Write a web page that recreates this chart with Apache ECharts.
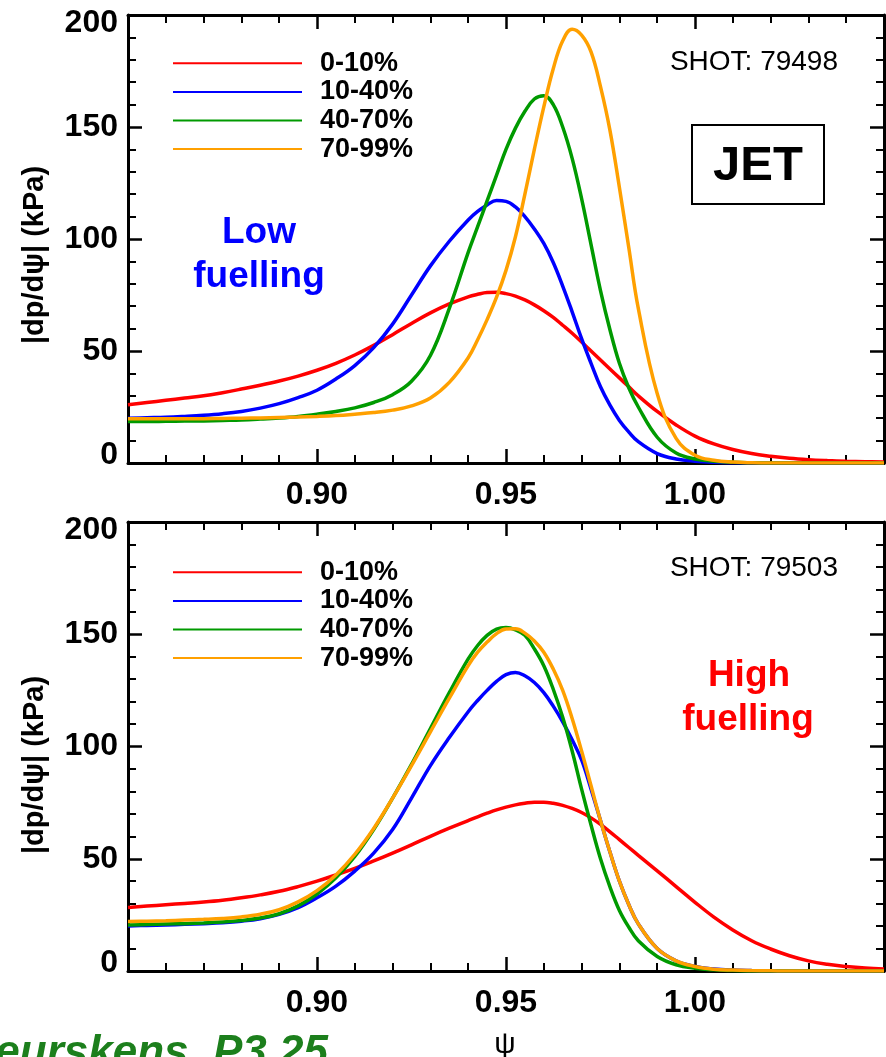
<!DOCTYPE html>
<html>
<head>
<meta charset="utf-8">
<script src="https://cdn.jsdelivr.net/npm/echarts@6/dist/echarts.min.js"></script>
<style>
  html, body { margin: 0; padding: 0; background: #ffffff; }
  #chart { width: 886px; height: 1057px; }
</style>
</head>
<body>
<div id="chart"></div>
<script>
// Normalised flux coordinate (psi); finer sampling across the pedestal peak
const psi = [
  0.850, 0.855, 0.860, 0.865, 0.870, 0.875, 0.880, 0.885, 0.890, 0.895,
  0.900, 0.905, 0.910, 0.915, 0.920, 0.925, 0.930, 0.935,
  0.9400, 0.9425, 0.9450, 0.9475, 0.9500, 0.9525, 0.9550, 0.9575, 0.9600, 0.9625,
  0.9650, 0.9675, 0.9700, 0.9725, 0.9750, 0.9775, 0.9800, 0.9825, 0.9850,
  0.990, 0.995, 1.000, 1.005, 1.010, 1.015, 1.020, 1.025, 1.030, 1.035,
  1.040, 1.045, 1.050
];

// ELM-cycle phase bins
const bands = ['0-10%', '10-40%', '40-70%', '70-99%'];
const bandColors = ['#ff0000', '#0000ff', '#009a00', '#ffa000'];

// Shot 79498 (low fuelling): |dp/dpsi| in kPa
const lowBand0 = [
  26.0, 27.0, 28.0, 29.0, 30.0, 31.4, 33.0, 34.7, 36.6, 38.8,
  41.4, 44.5, 48.2, 52.5, 57.3, 62.3, 67.0, 71.0,
  74.2, 75.3, 76.1, 76.2, 75.6, 74.5, 72.8, 70.6, 68.0, 65.0,
  61.5, 57.9, 54.0, 50.0, 46.0, 42.0, 38.0, 34.0, 30.0,
  23.0, 17.0, 12.0, 8.5, 6.0, 4.2, 3.0, 2.1, 1.5, 1.1,
  0.8, 0.6, 0.4
];
const lowBand1 = [
  20.0, 20.2, 20.4, 20.8, 21.3, 22.0, 23.0, 24.5, 26.5, 29.2,
  32.5, 37.5, 43.5, 51.5, 62.0, 75.0, 88.0, 99.0,
  108.5, 112.3, 115.2, 117.2, 116.8, 114.3, 110.0, 104.5, 98.0, 89.5,
  79.0, 67.5, 55.5, 44.5, 34.0, 25.8, 19.0, 13.8, 9.5,
  4.2, 1.8, 0.8, 0.3, 0.1, 0.0, 0.0, 0.0, 0.0, 0.0,
  0.0, 0.0, 0.0
];
const lowBand2 = [
  18.5, 18.5, 18.6, 18.7, 18.8, 19.0, 19.2, 19.6, 20.1, 20.8,
  21.8, 23.0, 24.6, 27.0, 30.5, 36.5, 48.0, 69.0,
  94.0, 105.5, 117.0, 128.5, 140.0, 149.5, 157.0, 162.5, 164.0, 160.0,
  150.0, 136.0, 118.0, 97.5, 77.0, 59.5, 44.5, 33.5, 25.0,
  11.5, 4.5, 1.8, 0.8, 0.3, 0.1, 0.0, 0.0, 0.0, 0.0,
  0.0, 0.0, 0.0
];
const lowBand3 = [
  19.8, 19.8, 19.8, 19.8, 19.8, 19.9, 20.0, 20.1, 20.3, 20.5,
  20.8, 21.2, 21.8, 22.5, 23.6, 25.5, 29.0, 36.0,
  47.0, 55.0, 64.0, 74.0, 86.0, 101.0, 120.0, 140.0, 159.0, 176.0,
  188.5, 193.6, 191.0, 183.5, 168.0, 148.5, 123.0, 96.0, 69.0,
  31.0, 11.0, 3.5, 1.2, 0.4, 0.1, 0.0, 0.0, 0.0, 0.0,
  0.0, 0.0, 0.0
];

// Shot 79503 (high fuelling): |dp/dpsi| in kPa
const highBand0 = [
  28.3, 28.9, 29.5, 30.1, 30.7, 31.5, 32.6, 33.9, 35.5, 37.6,
  40.0, 42.8, 45.7, 49.0, 52.5, 56.2, 60.0, 63.6,
  67.0, 68.7, 70.3, 71.8, 73.0, 74.0, 74.7, 75.2, 75.2, 74.7,
  73.8, 72.4, 70.6, 68.2, 65.3, 62.0, 58.5, 55.0, 51.5,
  44.6, 37.6, 30.6, 24.0, 18.3, 13.5, 9.8, 6.8, 4.5, 3.0,
  2.0, 1.3, 0.9
];
const highBand1 = [
  20.1, 20.3, 20.5, 20.8, 21.1, 21.5, 22.2, 23.3, 25.2, 28.2,
  32.6, 37.8, 44.5, 52.5, 63.0, 77.0, 91.5, 104.0,
  115.5, 120.5, 125.0, 129.0, 132.0, 133.0, 131.5, 128.5, 124.0, 118.0,
  111.0, 103.0, 94.0, 81.0, 67.0, 53.0, 40.0, 29.5, 21.0,
  10.0, 4.5, 2.0, 0.9, 0.4, 0.2, 0.1, 0.0, 0.0, 0.0,
  0.0, 0.0, 0.0
];
const highBand2 = [
  20.5, 20.7, 20.9, 21.1, 21.4, 21.8, 22.5, 23.6, 25.5, 29.0,
  34.3, 41.5, 51.0, 63.0, 77.0, 92.0, 108.0, 124.0,
  139.0, 145.0, 149.5, 152.3, 153.0, 152.0, 149.5, 143.5, 136.0, 125.5,
  113.0, 98.0, 81.0, 65.0, 50.0, 37.5, 27.0, 19.5, 13.5,
  6.5, 2.8, 1.2, 0.5, 0.2, 0.0, 0.0, 0.0, 0.0, 0.0,
  0.0, 0.0, 0.0
];
const highBand3 = [
  22.0, 22.2, 22.4, 22.7, 23.0, 23.4, 24.1, 25.3, 27.3, 30.8,
  35.8, 42.8, 52.0, 63.5, 77.0, 91.5, 106.5, 121.5,
  136.0, 142.0, 146.5, 150.3, 152.3, 152.4, 150.5, 147.0, 142.0, 134.5,
  125.0, 112.5, 98.0, 82.5, 67.0, 53.0, 40.0, 29.5, 21.0,
  10.0, 4.5, 2.0, 0.8, 0.4, 0.2, 0.1, 0.0, 0.0, 0.0,
  0.0, 0.0, 0.0
];

const lowSets = [lowBand0, lowBand1, lowBand2, lowBand3];
const highSets = [highBand0, highBand1, highBand2, highBand3];

const FONT = "'Liberation Sans', Arial, Helvetica, sans-serif";
const panelTops = [15, 522];
const panelHeight = 448;

function xAxes(gridIndex) {
  const common = {
    type: 'value', gridIndex: gridIndex, min: 0.85, max: 1.05, interval: 0.05,
    axisLine: { show: true, onZero: false, lineStyle: { color: '#000', width: 3 } },
    axisTick: { show: true, inside: true, length: 14, lineStyle: { color: '#000', width: 2.5 } },
    minorTick: { show: true, splitNumber: 5, length: 8, lineStyle: { color: '#000', width: 2 } },
    splitLine: { show: false }, minorSplitLine: { show: false }
  };
  return [
    Object.assign({}, common, {
      position: 'bottom',
      axisLabel: {
        show: true, showMinLabel: false, showMaxLabel: false, margin: 16,
        formatter: v => v.toFixed(2),
        fontFamily: FONT, fontSize: 32, fontWeight: 'bold', color: '#000'
      }
    }),
    Object.assign({}, common, { position: 'top', axisLabel: { show: false } })
  ];
}

function yAxes(gridIndex) {
  const common = {
    type: 'value', gridIndex: gridIndex, min: 0, max: 200, interval: 50,
    axisLine: { show: true, onZero: false, lineStyle: { color: '#000', width: 3 } },
    axisTick: { show: true, inside: true, length: 14, lineStyle: { color: '#000', width: 2.5 } },
    minorTick: { show: true, splitNumber: 5, length: 8, lineStyle: { color: '#000', width: 2 } },
    splitLine: { show: false }, minorSplitLine: { show: false }
  };
  const tickFont = { fontFamily: FONT, fontSize: 32, fontWeight: 'bold', color: '#000' };
  return [
    Object.assign({}, common, {
      position: 'left',
      axisLabel: {
        show: true, margin: 10,
        formatter: v => v === 0 ? '{lo|0}' : (v === 200 ? '{hi|200}' : '{n|' + v + '}'),
        rich: {
          lo: Object.assign({ padding: [0, 0, 16, 0] }, tickFont),
          hi: Object.assign({ padding: [16, 0, 0, 0] }, tickFont),
          n: Object.assign({}, tickFont)
        }
      }
    }),
    Object.assign({}, common, { position: 'right', axisLabel: { show: false } })
  ];
}

function panelSeries(sets, axisIndex) {
  return sets.map((vals, k) => ({
    name: bands[k],
    type: 'line',
    xAxisIndex: axisIndex,
    yAxisIndex: axisIndex,
    data: psi.map((x, i) => [x, vals[i]]),
    smooth: 0.4,
    showSymbol: false,
    symbol: 'none',
    clip: true,
    lineStyle: { color: bandColors[k], width: 3.5 },
    itemStyle: { color: bandColors[k] },
    z: 2 + k
  }));
}

function legendFor(top) {
  return {
    orient: 'vertical', left: 173, top: top, padding: 0,
    icon: 'rect', itemWidth: 129, itemHeight: 2, itemGap: 0,
    selectedMode: false,
    textStyle: {
      fontFamily: FONT, fontSize: 27, fontWeight: 'bold', color: '#000',
      lineHeight: 28.6, padding: [0, 0, 0, 13]
    },
    data: bands
  };
}

function txt(text, x, y, font, fill, extra) {
  return Object.assign({
    type: 'text', silent: true, x: x, y: y,
    style: {
      text: text, x: 0, y: 0, font: font, fill: fill,
      textAlign: 'center', textVerticalAlign: 'middle'
    }
  }, extra || {});
}

const chart = echarts.init(document.getElementById('chart'), null, { renderer: 'canvas' });

chart.setOption({
  backgroundColor: '#ffffff',
  animation: false,
  grid: [
    { left: 128, top: panelTops[0], width: 756, height: panelHeight, containLabel: false },
    { left: 128, top: panelTops[1], width: 756, height: panelHeight + 1, containLabel: false }
  ],
  xAxis: xAxes(0).concat(xAxes(1)),
  yAxis: yAxes(0).concat(yAxes(1)),
  legend: [legendFor(49), legendFor(558)],
  series: panelSeries(lowSets, 0).concat(panelSeries(highSets, 2)),
  graphic: [
    // y-axis titles
    txt('|dp/d\u03c8| (kPa)', 35, 255, 'bold 29px ' + FONT, '#000', { rotation: Math.PI / 2 }),
    txt('|dp/d\u03c8| (kPa)', 35, 765, 'bold 29px ' + FONT, '#000', { rotation: Math.PI / 2 }),
    // shot numbers
    {
      type: 'text', silent: true, x: 838, y: 62,
      style: { text: 'SHOT: 79498', x: 0, y: 0, font: '28px ' + FONT, fill: '#000',
               textAlign: 'right', textVerticalAlign: 'middle' }
    },
    {
      type: 'text', silent: true, x: 838, y: 568,
      style: { text: 'SHOT: 79503', x: 0, y: 0, font: '28px ' + FONT, fill: '#000',
               textAlign: 'right', textVerticalAlign: 'middle' }
    },
    // machine tag
    {
      type: 'rect', silent: true,
      shape: { x: 692, y: 125, width: 132, height: 79 },
      style: { fill: '#fff', stroke: '#000', lineWidth: 2 }
    },
    txt('JET', 758, 166, 'bold 49px ' + FONT, '#000'),
    // fuelling annotations
    txt('Low', 259, 233, 'bold 37px ' + FONT, '#0000ff'),
    txt('fuelling', 259, 277, 'bold 37px ' + FONT, '#0000ff'),
    txt('High', 749, 676, 'bold 37px ' + FONT, '#ff0000'),
    txt('fuelling', 748, 720, 'bold 37px ' + FONT, '#ff0000'),
    // x-axis title of the lower panel
    txt('\u03c8', 505, 1045, '30px ' + FONT, '#000'),
    // poster reference
    {
      type: 'text', silent: true, x: 328, y: 1032,
      style: { text: 'Beurskens, P3.25', x: 0, y: 0, font: 'italic bold 44px ' + FONT,
               fill: '#1c7f1c', textAlign: 'right', textVerticalAlign: 'top' }
    }
  ]
});
</script>
</body>
</html>
